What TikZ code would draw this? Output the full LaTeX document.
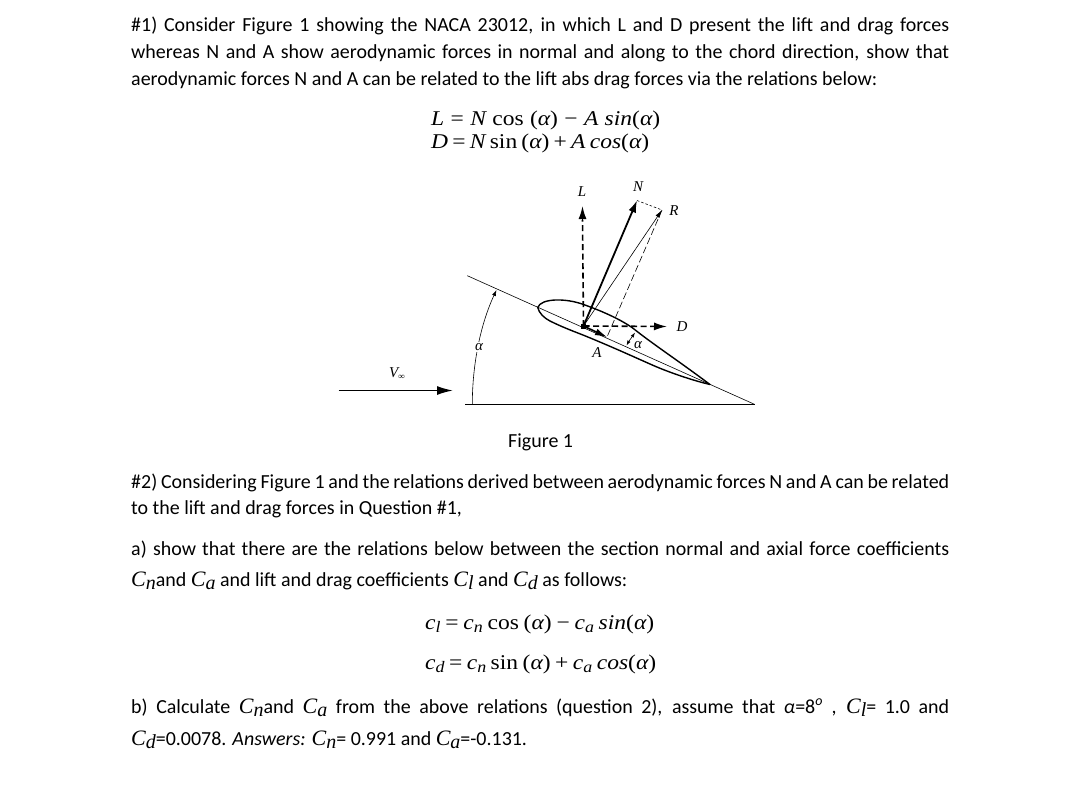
\documentclass[tikz,border=0pt]{standalone}
\usepackage{fontspec}
\setmainfont{Carlito}
\newfontfamily\mth{Liberation Serif}
\newfontfamily\mthw[FakeStretch=1.12]{Liberation Serif}
\usetikzlibrary{arrows.meta}
\newcommand\tl[1]{\makebox[818pt][s]{#1}}
\newcommand\iv[2]{{\mth\itshape\fontsize{22}{24}\selectfont #1\raisebox{-3.5pt}{\fontsize{20}{22}\selectfont #2}}}
\newcommand\ev[2]{{\mthw\itshape #1\raisebox{-3pt}{\fontsize{16}{18}\selectfont #2}}}
\newcommand\mi[1]{{\itshape #1}}
\tikzset{
 x=1pt,y=-1pt,
 body/.style={anchor=base west,inner sep=0pt,font=\fontsize{19.95}{22}\selectfont},
 eqn/.style={anchor=base west,inner sep=0pt,font=\mthw\fontsize{21}{24}\selectfont},
 fig/.style={inner sep=0pt,font=\mth\itshape\fontsize{15}{16}\selectfont},
 thick dash/.style={line width=1.6pt,dash pattern=on 6pt off 3.5pt},
 thin line/.style={line width=0.6pt},
}
\begin{document}
\begin{tikzpicture}
\useasboundingbox (0,0) rectangle (1068,785);
% text
\node[body] (t1) at (131,31) {\tl{\#1) Consider Figure 1 showing the NACA 23012, in which L and D present the lift and drag forces}};
\node[body] (t2) at (131,58) {\tl{whereas N and A show aerodynamic forces in normal and along to the chord direction, show that}};
\node[body] (t3) at (131,85) {aerodynamic forces N and A can be related to the lift abs drag forces via the relations below:};
\node[eqn] (e1) at (431,125) {\makebox[229pt][s]{\mi{L} = \mi{N} cos (\mi{α}) − \mi{A sin}(\mi{α})}};
\node[eqn] (e2) at (431,148) {\makebox[218pt][s]{\mi{D} = \mi{N} sin (\mi{α}) + \mi{A cos}(\mi{α})}};
\node[body] (fc) at (508,447) {Figure 1};
\node[body] (t4) at (131,488) {\tl{\#2) Considering Figure 1 and the relations derived between aerodynamic forces N and A can be related}};
\node[body] (t5) at (131,514) {to the lift and drag forces in Question \#1,};
\node[body] (t6) at (131,555) {\tl{a) show that there are the relations below between the section normal and axial force coefficients}};
\node[body] (t7) at (131,586) {\iv{C}{n}and \iv{C}{a} and lift and drag coefficients \iv{C}{l} and \iv{C}{d} as follows:};
\node[eqn] (e3) at (425,629) {\makebox[229pt][s]{\ev{c}{l} = \ev{c}{n} cos (\mi{α}) − \ev{c}{a} \mi{sin}(\mi{α})}};
\node[eqn] (e4) at (425,669) {\makebox[231pt][s]{\ev{c}{d} = \ev{c}{n} sin (\mi{α}) + \ev{c}{a} \mi{cos}(\mi{α})}};
\node[body] (t8) at (131,713) {\tl{b) Calculate \iv{C}{n}and \iv{C}{a} from the above relations (question 2), assume that \mi{α}=8\textsuperscript{\mi{o}} , \iv{C}{l}= 1.0 and}};
\node[body] (t9) at (131,745) {\iv{C}{d}=0.0078. \mi{Answers:} \iv{C}{n}= 0.991 and \iv{C}{a}=-0.131.};
% figure points
\coordinate (O) at (583.5,326);
\coordinate (Ltip) at (582.5,206);
\coordinate (Ntip) at (637,200.5);
\coordinate (Rtip) at (662,210);
\coordinate (Dtip) at (667,326.5);
\coordinate (Atip) at (607,337);
\coordinate (Cs) at (467.3,275.7);
\coordinate (Ce) at (754.5,404.3);
\coordinate (Hs) at (465,404.3);
\coordinate (Vs) at (338.5,390.5);
\coordinate (Ve) at (453,390.5);
\coordinate (LE) at (537.7,307.5);
\coordinate (TE) at (710,384.5);
\coordinate (Lb) at (582.5,220);
\coordinate (Db) at (654,326.4);
% baseline and chord
\draw[thin line] (Cs) -- (Ce);
\draw[line width=0.9pt] (Hs) -- (Ce);
% aerofoil
\draw[line width=1.4pt,line join=round] (LE) .. controls (541,298) and (566,298) .. (583.5,304.5)
  .. controls (602,311) and (622,320) .. (634,329)
  .. controls (650,342) and (680,362) .. (TE)
  .. controls (695,381) and (670,373) .. (650,364)
  .. controls (632,356) and (610,346) .. (583,335)
  .. controls (570,330) and (560,326) .. (550,321)
  .. controls (544,318) and (539,313) .. (LE) -- cycle;
% vectors
\draw[line width=1.6pt,-{Latex[length=16pt,width=9pt]}] (Vs) -- (Ve);
\draw[thick dash] (O) -- (Lb);
\draw[line width=1.6pt,-{Latex[length=13pt,width=8pt]}] (Lb) -- (Ltip);
\draw[line width=1.8pt,-{Latex[length=12pt,width=8pt]}] (O) -- (Ntip);
\draw[thin line,-{Latex[length=8pt,width=4.5pt]}] (O) -- (Rtip);
\draw[thin line,dash pattern=on 2.5pt off 2pt] (Ntip) -- (Rtip);
\draw[thin line,dash pattern=on 7pt off 3pt] (Rtip) -- (Atip);
\draw[thick dash] (O) -- (Db);
\draw[line width=1.6pt,-{Latex[length=13pt,width=8pt]}] (Db) -- (Dtip);
\draw[line width=1.6pt,-{Latex[length=12pt,width=7pt]}] (O) -- (Atip);
\fill (O) ++(-2.5,-2.5) rectangle ++(5,5);
% angle arcs
\coordinate (A1) at (472.3,404.3);
\coordinate (A2) at (496.5,290);
\draw[thin line,-{Latex[length=6pt,width=4pt]}] (A1) .. controls (472.3,363) and (481,323) .. (A2);
\coordinate (B1) at (635,332.5);
\coordinate (B2) at (626.5,345.5);
\draw[thin line,{Latex[length=5pt,width=3.5pt]}-{Latex[length=5pt,width=3.5pt]}] (B1) .. controls (632,337) and (629,341) .. (B2);
% labels
\node[fig] (lL) at (582,192) {L};
\node[fig] (lN) at (638,187) {N};
\node[fig] (lR) at (674,211) {R};
\node[fig] (lD) at (682,327) {D};
\node[fig] (lA) at (597,353) {A};
\node[fig,fill=white,inner sep=1.5pt] (la1) at (479,347) {α};
\node[fig] (la2) at (638,345) {α};
\node[fig] (lV) at (397,374) {V\raisebox{-2pt}{\fontsize{9}{10}\selectfont ∞}};
\end{tikzpicture}
\end{document}
